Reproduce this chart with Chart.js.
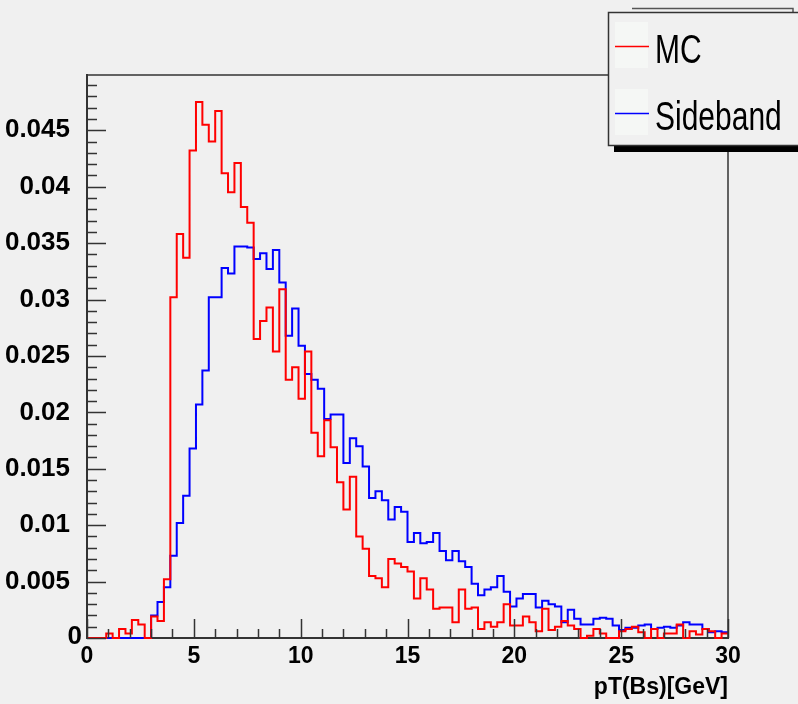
<!DOCTYPE html>
<html><head><meta charset="utf-8">
<script src="https://cdn.jsdelivr.net/npm/chart.js@4.4.0/dist/chart.umd.min.js"></script>
<style>html,body{margin:0;padding:0;background:#f0f0f0;}#wrap{width:798px;height:704px;}</style>
</head><body><div id="wrap"><canvas id="c" width="798" height="704"></canvas></div>
<script>
// Histogram binning (0..30 GeV, 100 bins)
const xMin = 0, xMax = 30, nBins = 100;
const seriesNames = ['MC', 'Sideband'];
const xTitle = 'pT(Bs)[GeV]';
const xTickValues = [0, 5, 10, 15, 20, 25, 30];
const yTickValues = [0, 0.005, 0.01, 0.015, 0.02, 0.025, 0.03, 0.035, 0.04, 0.045];
const yMax = 0.0499;

const mcValues = [
 0, 0, 0, 0.0004, 0, 0.0008, 0.0004, 0.0016, 0.0012, 0,
 0.0019, 0.0015, 0.0052, 0.0302, 0.0358, 0.0337, 0.0432, 0.0475, 0.0455, 0.0440,
 0.0467, 0.0412, 0.0395, 0.0421, 0.0382, 0.0368, 0.0265, 0.0281, 0.0293, 0.0254,
 0.0309, 0.0229, 0.0240, 0.0212, 0.0254, 0.0182, 0.0161, 0.0193, 0.0169, 0.0138,
 0.0114, 0.0143, 0.0090, 0.0079, 0.0055, 0.0053, 0.0045, 0.0070, 0.0066, 0.0063,
 0.0059, 0.0035, 0.0053, 0.0043, 0.0026, 0.0027, 0.0027, 0.0014, 0.0043, 0.0026,
 0.0027, 0.0008, 0.0014, 0.0010, 0.0014, 0.0030, 0.0011, 0.0011, 0.0019, 0.0014,
 0.0006, 0.0026, 0.0007, 0.0010, 0.0015, 0.0011, 0.0008, 0, 0.0002, 0.0008,
 0.0004, 0, 0, 0.0006, 0.0008, 0.0010, 0.0005, 0, 0.0008, 0,
 0.0004, 0.0004, 0.0012, 0, 0.0006, 0.0003, 0.0008, 0.0006, 0, 0.0004
];
const sidebandValues = [
 0, 0, 0, 0, 0, 0, 0, 0, 0, 0,
 0.0020, 0.0032, 0.0045, 0.0073, 0.0102, 0.0126, 0.0168, 0.0207, 0.0237, 0.0302,
 0.0302, 0.0328, 0.0323, 0.0347, 0.0347, 0.0346, 0.0336, 0.0341, 0.0327, 0.0344,
 0.0315, 0.0268, 0.0292, 0.0259, 0.0234, 0.0229, 0.0221, 0.0194, 0.0198, 0.0198,
 0.0155, 0.0177, 0.0170, 0.0152, 0.0124, 0.0130, 0.0122, 0.0105, 0.0116, 0.0112,
 0.0085, 0.0093, 0.0084, 0.0085, 0.0093, 0.0077, 0.0069, 0.0077, 0.0068, 0.0063,
 0.0048, 0.0038, 0.0043, 0.0045, 0.0055, 0.0041, 0.0028, 0.0035, 0.0039, 0.0039,
 0.0027, 0.0033, 0.0030, 0.0028, 0.0014, 0.0025, 0.0017, 0.0012, 0.0012, 0.0017,
 0.0018, 0.0017, 0.0011, 0.0007, 0.0009, 0.0009, 0.0011, 0.0012, 0.0008, 0.0009,
 0.0010, 0.0009, 0.0011, 0.0014, 0.0012, 0.0012, 0.0008, 0.0005, 0.0006, 0.0005
];
const seriesColors = ['#ff0000', '#0000ff'];

function histPoints(vals) {
  const w = (xMax - xMin) / nBins;
  const pts = vals.map((v, i) => ({ x: xMin + i * w, y: v }));
  pts.push({ x: xMax, y: vals[vals.length - 1] });
  return pts;
}

const AXIS = '#333333';
const FAM = '"Liberation Sans", Arial, sans-serif';
const xFont = { family: FAM, weight: 'bold', size: 23 };
const yFont = { family: FAM, weight: 'bold', size: 26 };
const titleFont = { family: FAM, weight: 'bold', size: 23 };

const rootTicks = {
  id: 'rootTicks',
  afterDatasetsDraw(chart) {
    const { ctx, chartArea: a, scales: { x, y } } = chart;
    ctx.save();
    ctx.strokeStyle = AXIS;
    ctx.lineWidth = 1.5;
    ctx.beginPath();
    ctx.moveTo(a.left, a.top); ctx.lineTo(a.right, a.top); ctx.lineTo(a.right, a.bottom);
    ctx.stroke();
    ctx.beginPath();
    for (let v = xMin; v <= xMax; v++) {
      const px = Math.round(x.getPixelForValue(v)) + 0.5;
      const len = v % 5 === 0 ? 19 : 9;
      ctx.moveTo(px, a.bottom); ctx.lineTo(px, a.bottom - len);
    }
    for (let k = 0; k <= 49; k++) {
      const py = Math.round(y.getPixelForValue(k / 1000)) + 0.5;
      const len = k % 5 === 0 ? 19 : 10;
      ctx.moveTo(a.left, py); ctx.lineTo(a.left + len, py);
    }
    ctx.stroke();
    // y-axis origin label, ROOT places it next to the x origin label
    ctx.fillStyle = '#000';
    ctx.font = 'bold 26px ' + FAM;
    ctx.textAlign = 'right';
    ctx.textBaseline = 'middle';
    ctx.fillText(String(yTickValues[0]), a.left - 5, y.getPixelForValue(yTickValues[0]) - 1);
    ctx.restore();
  },
  afterDraw(chart) {
    const ctx = chart.ctx;
    ctx.save();
    ctx.strokeStyle = '#555';
    ctx.lineWidth = 1.5;
    ctx.beginPath(); ctx.moveTo(632, 8.5); ctx.lineTo(793, 8.5); ctx.lineTo(793, 12); ctx.stroke();
    ctx.fillStyle = '#000';
    ctx.fillRect(614, 146, 184, 6);
    ctx.fillStyle = '#f0f0f0';
    ctx.fillRect(608, 12, 190, 134);
    ctx.strokeStyle = '#333';
    ctx.lineWidth = 1.5;
    ctx.strokeRect(608.5, 12.5, 200, 133);
    const rows = [46, 113];
    const bases = [63, 130];
    chart.data.datasets.forEach((ds, i) => {
      ctx.fillStyle = '#f5f7f5';
      ctx.fillRect(615, rows[i] - 24, 33, 46);
      ctx.strokeStyle = ds.borderColor;
      ctx.lineWidth = 1.5;
      ctx.beginPath(); ctx.moveTo(615, rows[i] + 0.5); ctx.lineTo(649, rows[i] + 0.5); ctx.stroke();
      ctx.save();
      ctx.translate(655, bases[i]);
      ctx.scale(1, 1.37);
      ctx.fillStyle = '#000';
      ctx.font = '30px ' + FAM;
      ctx.textBaseline = 'alphabetic';
      ctx.fillText(ds.label, 0, 0);
      ctx.restore();
    });
    ctx.restore();
  }
};

new Chart(document.getElementById('c'), {
  type: 'line',
  data: {
    datasets: [
      { label: seriesNames[0], data: histPoints(mcValues), borderColor: seriesColors[0], borderWidth: 2, stepped: 'before', pointRadius: 0, fill: false, clip: false },
      { label: seriesNames[1], data: histPoints(sidebandValues), borderColor: seriesColors[1], borderWidth: 2, stepped: 'before', pointRadius: 0, fill: false, clip: false }
    ]
  },
  options: {
    responsive: false, animation: false, devicePixelRatio: 1,
    layout: { padding: { top: 75, right: 70, left: 0, bottom: 0 } },
    plugins: { legend: { display: false }, tooltip: { enabled: false } },
    scales: {
      x: {
        type: 'linear', min: xMin, max: xMax,
        afterBuildTicks: s => { s.ticks = xTickValues.map(v => ({ value: v })); },
        ticks: { font: xFont, color: '#000', padding: 5, maxRotation: 0, autoSkip: false },
        grid: { display: false, drawTicks: false },
        border: { display: true, color: AXIS, width: 2 },
        title: { display: true, text: xTitle, align: 'end', color: '#000', font: titleFont, padding: { top: 0, bottom: 3 } },
        afterFit: s => { s.height = 66; }
      },
      y: {
        min: 0, max: yMax,
        afterBuildTicks: s => { s.ticks = yTickValues.map(v => ({ value: v })); },
        ticks: { font: yFont, color: '#000', padding: 17, callback: v => v === 0 ? '' : String(+v.toFixed(3)) },
        grid: { display: false, drawTicks: false },
        border: { display: true, color: AXIS, width: 2 },
        afterFit: s => { s.width = 87; }
      }
    }
  },
  plugins: [rootTicks]
});
</script></body></html>
